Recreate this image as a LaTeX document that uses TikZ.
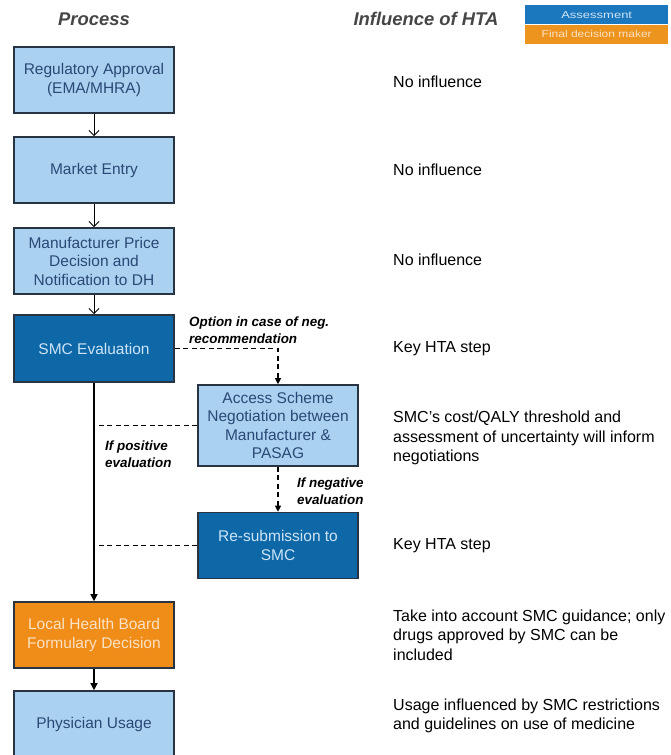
\documentclass[tikz,border=0pt]{standalone}
\usepackage{fontspec}
\setmainfont{Liberation Sans}
\usetikzlibrary{arrows.meta}
\definecolor{lightfill}{RGB}{170,210,240}
\definecolor{darkfill}{RGB}{14,104,168}
\definecolor{orangefill}{RGB}{240,140,24}
\definecolor{boxedge}{RGB}{40,52,66}
\definecolor{lighttext}{RGB}{42,72,118}
\definecolor{paletext}{RGB}{205,228,246}
\definecolor{orangetext}{RGB}{252,226,196}
\definecolor{titlegrey}{RGB}{70,70,70}
\definecolor{legblue}{RGB}{28,120,190}
\definecolor{legorange}{RGB}{236,148,30}
\begin{document}
\begin{tikzpicture}[x=1pt,y=-1pt,
  basebox/.style={draw=boxedge, line width=1.6pt, minimum width=160pt, minimum height=66pt,
    align=center, inner sep=1pt, font=\fontsize{15.5}{18.5}\selectfont},
  procbox/.style={basebox, fill=lightfill, text=lighttext},
  htabox/.style={basebox, fill=darkfill, text=paletext},
  decbox/.style={basebox, fill=orangefill, text=orangetext},
  infl/.style={anchor=west, align=left, inner sep=0pt, font=\fontsize{16}{19.5}\selectfont},
  title/.style={font=\fontsize{18.4}{22}\selectfont\bfseries\itshape, text=titlegrey},
  lab/.style={anchor=west, align=left, inner sep=0pt, font=\fontsize{13.4}{16.5}\selectfont\bfseries\itshape},
  legend/.style={minimum width=143pt, minimum height=19pt, inner sep=0pt, font=\fontsize{10}{11}\selectfont},
  openarrow/.style={line width=1pt, -{Straight Barb[length=5pt,width=10pt]}},
  solidarrow/.style={line width=1.2pt, -{Triangle[length=7pt,width=7pt]}},
  dashconn/.style={line width=1.1pt, dash pattern=on 5pt off 3.5pt},
  dasharrow/.style={dashconn, -{Triangle[length=6pt,width=6pt]}}
]
\useasboundingbox (0,0) rectangle (670,755);

% titles and legend
\node[title] (tp) at (94,19) {Process};
\node[title] (ti) at (426,19) {Influence of HTA};
\node[legend, fill=legblue, text=paletext, anchor=north west] (la) at (525,5) {\scalebox{1.3}[1]{Assessment}};
\node[legend, fill=legorange, text=orangetext, anchor=north] (lf) at (la.south) {\scalebox{1.2}[1]{Final decision maker}};

% process boxes
\node[procbox] (b1) at (94,80) {Regulatory Approval\\(EMA/MHRA)};
\node[procbox] (b2) at (94,170) {Market Entry};
\node[procbox] (b3) at (94,261) {Manufacturer Price\\Decision and\\Notification to DH};
\node[htabox, minimum height=67pt] (b4) at (94,348.5) {SMC Evaluation};
\node[procbox, minimum height=81pt] (b5) at (278,425.5) {Access Scheme\\Negotiation between\\Manufacturer \&\\PASAG};
\node[htabox] (b6) at (278,545.5) {Re-submission to\\SMC};
\node[decbox] (b7) at (94,635) {Local Health Board\\Formulary Decision};
\node[procbox] (b8) at (94,724) {Physician Usage};

% influence texts
\node[infl] (t1) at (393,82) {No influence};
\node[infl] (t2) at (393,170) {No influence};
\node[infl] (t3) at (393,260) {No influence};
\node[infl] (t4) at (393,349) {Key HTA step};
\node[infl] (t5) at (393,438) {SMC’s cost/QALY threshold and\\assessment of uncertainty will inform\\negotiations};
\node[infl] (t6) at (393,546) {Key HTA step};
\node[infl] (t7) at (393,635) {Take into account SMC guidance; only\\drugs approved by SMC can be\\included};
\node[infl] (t8) at (393,716) {Usage influenced by SMC restrictions\\and guidelines on use of medicine};

% connectors
\draw[openarrow] (b1.south) -- (b2.north);
\draw[openarrow] (b2.south) -- (b3.north);
\draw[openarrow] (b3.south) -- (b4.north);
\draw[solidarrow] (b4.south) -- (b7.north);
\draw[solidarrow] (b7.south) -- (b8.north);

\draw[dasharrow] (b4.east) -| (b5.north);
\coordinate (j1) at (b4.south |- b5.west);
\draw[dashconn] (b5.west) -- (j1);
\draw[dasharrow] (b5.south) -- (b6.north);
\coordinate (j2) at (b4.south |- b6.west);
\draw[dashconn] (b6.west) -- (j2);

% labels
\node[lab] (l1) at (189,330) {Option in case of neg.\\recommendation};
\node[lab] (l2) at (105,454) {If positive\\evaluation};
\node[lab] (l3) at (297,491) {If negative\\evaluation};
\end{tikzpicture}
\end{document}
